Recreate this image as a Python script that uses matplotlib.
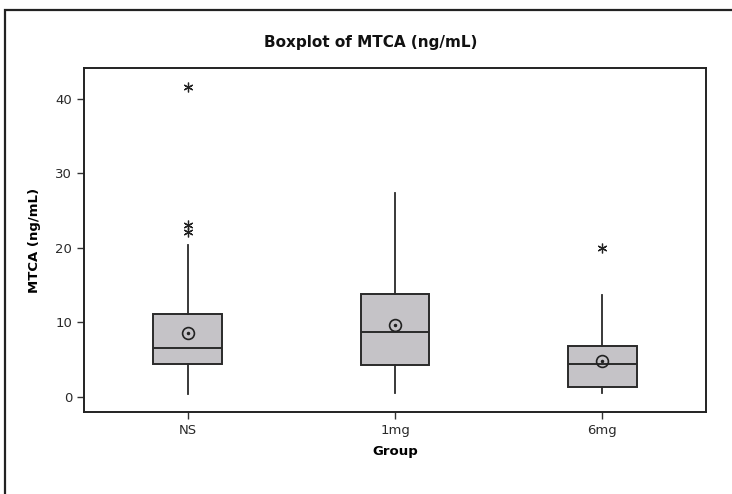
import matplotlib
matplotlib.use("Agg")
import matplotlib.pyplot as plt
from matplotlib.patches import Rectangle

# MTCA (ng/mL) summary per treatment group
groups    = ["NS", "1mg", "6mg"]
whis_low  = [0.45, 0.5, 0.5]
q1        = [4.45, 4.25, 1.34]
medians   = [6.63, 8.78, 4.48]
q3        = [11.1, 13.8, 6.8]
whis_high = [20.35, 27.4, 13.7]
means     = [8.52, 9.72, 4.85]
outliers  = [[41.6, 23.0, 22.1], [], [19.95]]

W, H, DPI = 732, 494, 100
fig = plt.figure(figsize=(W / DPI, H / DPI), dpi=DPI)
plt.rcParams["font.family"] = "DejaVu Sans"

# outer graph frame (runs off the right and bottom edges)
fig.patches.append(Rectangle((4.5 / W, -0.1), 1.2, 1.1 - 10.5 / H,
                             transform=fig.transFigure, fill=False,
                             edgecolor="#222222", linewidth=1.6, zorder=0))

ax = fig.add_axes([84 / W, (H - 412) / H, (706 - 84) / W, (412 - 68) / H])

stats = []
for i, name in enumerate(groups):
    stats.append({
        "label": name,
        "whislo": whis_low[i],
        "q1": q1[i],
        "med": medians[i],
        "q3": q3[i],
        "whishi": whis_high[i],
        "mean": means[i],
        "fliers": outliers[i],
    })

ax.bxp(stats, positions=[1, 2, 3], widths=0.33, patch_artist=True,
       showmeans=True, showcaps=False,
       boxprops=dict(facecolor="#c5c3c7", edgecolor="#2a2a2a", linewidth=1.4),
       medianprops=dict(color="#2a2a2a", linewidth=1.4),
       whiskerprops=dict(color="#2a2a2a", linewidth=1.3),
       meanprops=dict(marker="o", markerfacecolor="none",
                      markeredgecolor="#222222", markersize=8.5, markeredgewidth=1.2),
       flierprops=dict(marker=(6, 2, 0), markeredgecolor="#222222",
                       markersize=7, markeredgewidth=0.9))

# centre dot inside each mean circle
ax.plot([1, 2, 3], means, linestyle="none", marker="o", markersize=1.5,
        color="#222222")

ax.set_xlim(0.5, 3.5)
ax.set_ylim(-2.0, 44.1)
ax.set_yticks([0, 10, 20, 30, 40])
ax.set_xticks([1, 2, 3])
ax.set_xticklabels(groups)
ax.tick_params(direction="out", length=5, width=1, colors="#333333",
               labelsize=9.5, labelcolor="#2a2a2a")
for side in ax.spines.values():
    side.set_linewidth(1.4)
    side.set_color("#222222")

ax.set_ylabel("MTCA (ng/mL)", fontsize=9.5, fontweight="bold", labelpad=10)
ax.set_xlabel("Group", fontsize=9.5, fontweight="bold", labelpad=6)
fig.text(371 / W, 1 - 43 / H, "Boxplot of MTCA (ng/mL)", ha="center",
         va="center", fontsize=11, fontweight="bold", color="#111111")

fig.savefig("out.png", dpi=DPI)
